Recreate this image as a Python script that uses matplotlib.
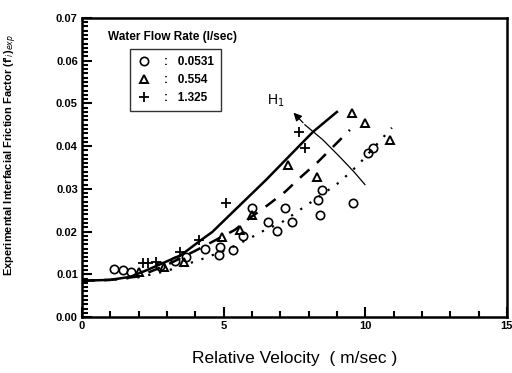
import matplotlib.pyplot as plt
from matplotlib.ticker import MultipleLocator

plt.rcParams['font.family'] = ['Liberation Sans', 'DejaVu Sans']

# data: water flow rate 0.0531 l/sec (circles)
v_circ = [1.13, 1.45, 1.73, 2.75, 3.28, 3.67, 4.34, 4.84, 4.87, 5.33, 5.68, 6.0,
          6.56, 6.88, 7.17, 7.41, 8.33, 8.40, 8.47, 9.57, 10.1, 10.27]
f_circ = [0.0112, 0.0110, 0.0105, 0.0119, 0.0131, 0.0140, 0.0159, 0.0145, 0.0164,
          0.0157, 0.0190, 0.0255, 0.0222, 0.0201, 0.0255, 0.0222, 0.0274, 0.0239,
          0.0297, 0.0267, 0.0384, 0.0396]
# 0.554 l/sec (triangles)
v_tri = [2.0, 2.9, 3.6, 4.94, 5.58, 6.0, 7.27, 8.3, 9.53, 9.99, 10.87]
f_tri = [0.0105, 0.0117, 0.0129, 0.0187, 0.0204, 0.0239, 0.0356, 0.0328, 0.0478,
         0.0454, 0.0415]
# 1.325 l/sec (plus)
v_plus = [2.16, 2.33, 2.6, 3.46, 4.13, 5.08, 7.66, 7.87]
f_plus = [0.0126, 0.0126, 0.0129, 0.0152, 0.018, 0.0267, 0.0433, 0.0396]

# correlation curves
v_solid = [0, 1.0, 1.7, 2.3, 3.5, 4.2, 4.6, 5.3, 6.5, 7.0, 8.15, 9.0]
f_solid = [0.0085, 0.0087, 0.0094, 0.0110, 0.0145, 0.0180, 0.0199, 0.0244, 0.0321,
           0.0355, 0.0433, 0.0480]
v_dash = [0, 1.0, 2.0, 3.0, 4.0, 5.4, 5.93, 6.56, 7.17, 7.7, 8.33, 9.46]
f_dash = [0.0085, 0.0087, 0.0095, 0.0122, 0.0155, 0.0204, 0.0232, 0.0262, 0.0293,
          0.0326, 0.0363, 0.0438]
v_dot = [0, 1.0, 2.0, 3.0, 4.34, 5.2, 6.0, 6.35, 7.06, 8.05, 9.1, 9.75, 10.94]
f_dot = [0.0085, 0.0087, 0.0093, 0.0108, 0.0138, 0.0160, 0.0187, 0.0200, 0.0222,
         0.0267, 0.0316, 0.0356, 0.0443]
v_h1 = [7.87, 8.5, 9.1, 9.6, 9.99]
f_h1 = [0.0450, 0.0415, 0.0375, 0.0340, 0.0310]

fig = plt.figure(figsize=(5.12, 3.73), dpi=100)
ax = fig.add_axes([0.160, 0.150, 0.830, 0.802])

ax.plot(v_solid, f_solid, color='black', lw=1.8)
ax.plot(v_dash, f_dash, color='black', lw=1.8, linestyle=(0, (5, 4)))
ax.plot(v_dot, f_dot, color='black', lw=1.6, linestyle=(0, (1, 4)))
ax.plot(v_h1, f_h1, color='black', lw=0.9)
ax.annotate('', xy=(7.4, 0.0483), xytext=(v_h1[0], f_h1[0]),
            arrowprops=dict(arrowstyle='-|>', color='black', lw=0.9,
                            mutation_scale=12))
ax.text(6.85, 0.0505, 'H$_1$', fontsize=10, ha='center', va='center')

h1, = ax.plot(v_circ, f_circ, 'o', ms=6, mfc='none', mec='black', mew=1.2)
h2, = ax.plot(v_tri, f_tri, '^', ms=6, mfc='none', mec='black', mew=1.4)
h3, = ax.plot(v_plus, f_plus, '+', ms=7, mec='black', mew=1.3)

ax.text(0.062, 0.935, 'Water Flow Rate (l/sec)', transform=ax.transAxes,
        fontsize=8.5, fontweight='bold', va='center')
leg = ax.legend([h1, h2, h3], [':   0.0531', ':   0.554', ':   1.325'],
                loc='upper left', bbox_to_anchor=(0.113, 0.895),
                prop={'size': 8.5, 'weight': 'bold'}, frameon=True, fancybox=False,
                edgecolor='black', handlelength=1.2, handletextpad=1.1,
                labelspacing=0.5, borderpad=0.6, borderaxespad=0)
leg.get_frame().set_linewidth(1.0)

ax.set_xlim(0, 15)
ax.set_ylim(0, 0.07)
ax.xaxis.set_major_locator(MultipleLocator(5))
ax.xaxis.set_minor_locator(MultipleLocator(1))
ax.yaxis.set_major_locator(MultipleLocator(0.01))
ax.yaxis.set_minor_locator(MultipleLocator(0.001))
ax.yaxis.set_major_formatter(plt.FormatStrFormatter('%.2f'))
ax.tick_params(which='both', direction='in', top=False, right=False, width=1.5)
ax.tick_params(which='major', length=7, labelsize=8, pad=3)
ax.tick_params(which='minor', length=4)
for lab in ax.get_xticklabels() + ax.get_yticklabels():
    lab.set_fontweight('bold')
for s in ax.spines.values():
    s.set_linewidth(1.8)

ax.set_xlabel('Relative Velocity  ( m/sec )', fontsize=12.5, labelpad=14)
ax.set_ylabel("Experimental Interfacial Friction Factor (f'$_i$)$_{exp}$",
              fontsize=8, fontweight='bold')
ax.yaxis.set_label_coords(-0.148, 0.54)

fig.savefig('out.png', dpi=100)
